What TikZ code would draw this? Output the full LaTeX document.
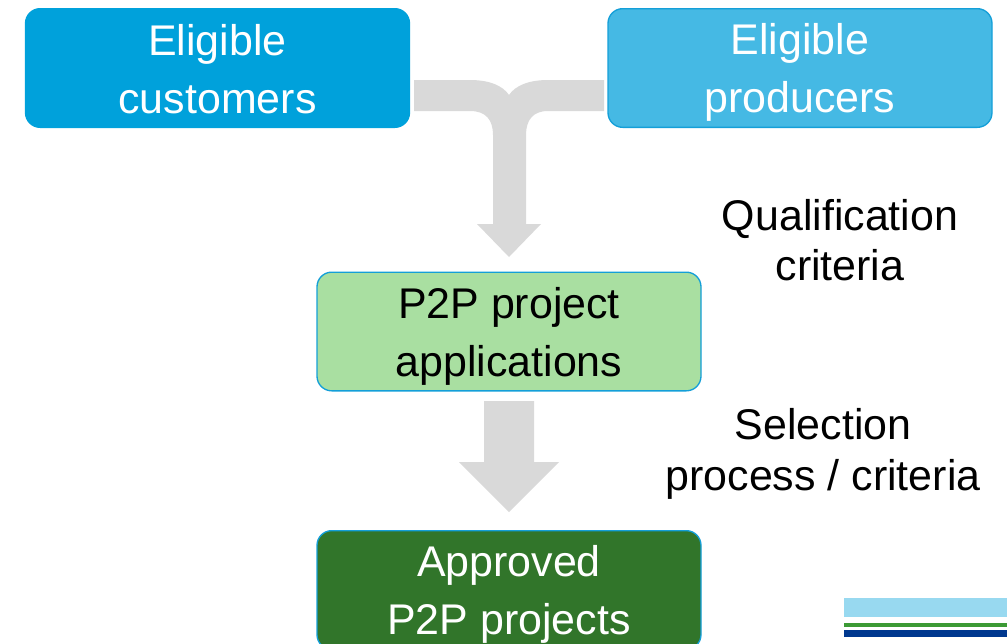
\documentclass[tikz,border=0pt]{standalone}
\usepackage{fontspec}
\setmainfont{Liberation Sans}
\usepackage{tikz}
\usetikzlibrary{positioning}
\definecolor{custblue}{HTML}{00A1DB}
\definecolor{prodblue}{HTML}{45B9E4}
\definecolor{edgeblue}{HTML}{149FD8}
\definecolor{appgreen}{HTML}{A9DFA1}
\definecolor{okgreen}{HTML}{31752A}
\definecolor{flowgrey}{HTML}{D9D9D9}
\definecolor{logolight}{HTML}{98D9F0}
\definecolor{logogreen}{HTML}{3C9A35}
\definecolor{logonavy}{HTML}{00388F}
\newcommand\boxstrut{\rule[-6pt]{0pt}{36pt}}
\begin{document}
\begin{tikzpicture}[x=0.75pt,y=-0.75pt,
  stage/.style={rounded corners=11pt,minimum width=288pt,minimum height=89pt,align=center,
    text=white,font=\fontsize{32.2}{43.5}\selectfont,line width=1pt},
  note/.style={align=center,font=\fontsize{32.2}{38}\selectfont}]
\useasboundingbox (0,0) rectangle (1007,643);
\clip (0,0) rectangle (1007,643);
\node [stage,fill=custblue,draw=custblue] (cust) at (217.5,68) {\boxstrut Eligible\\\boxstrut customers};
\node [stage,fill=prodblue,draw=edgeblue] (prod) at (800,68) {\boxstrut Eligible\\\boxstrut producers};
\node [stage,fill=appgreen,draw=edgeblue,text=black] (app) at (509,331.5) {\boxstrut P2P project\\\boxstrut applications};
\node [stage,fill=okgreen,draw=edgeblue] (ok) at (509,590) {\boxstrut Approved\\\boxstrut P2P projects};
% merging arrow
\path [fill=flowgrey] (414,80) -- (470,80) .. controls (490,80) and (503,86) .. (509,95)
  .. controls (515,86) and (528,80) .. (548,80) -- (604,80) -- (604,111) -- (548,111)
  .. controls (533,111) and (526,120) .. (526,135) -- (526,224) -- (541,224) -- (509,257)
  -- (477,224) -- (493,224) -- (493,135) .. controls (493,120) and (486,111) .. (470,111)
  -- (414,111) -- cycle;
\path [fill=flowgrey] (484,401) -- (534,401) -- (534,462) -- (559,462) -- (509,512) -- (459,462) -- (484,462) -- cycle;
\node [note] (qual) at (840,240) {Qualification\\criteria};
\node [note] (sel) at (823,454) {Selection\\process / criteria};
% logo stripes
\fill [logolight] (844,598) rectangle (1007,617);
\fill [logogreen] (844,623) rectangle (1007,627);
\fill [logonavy] (844,630) rectangle (1007,637);
\end{tikzpicture}
\end{document}
